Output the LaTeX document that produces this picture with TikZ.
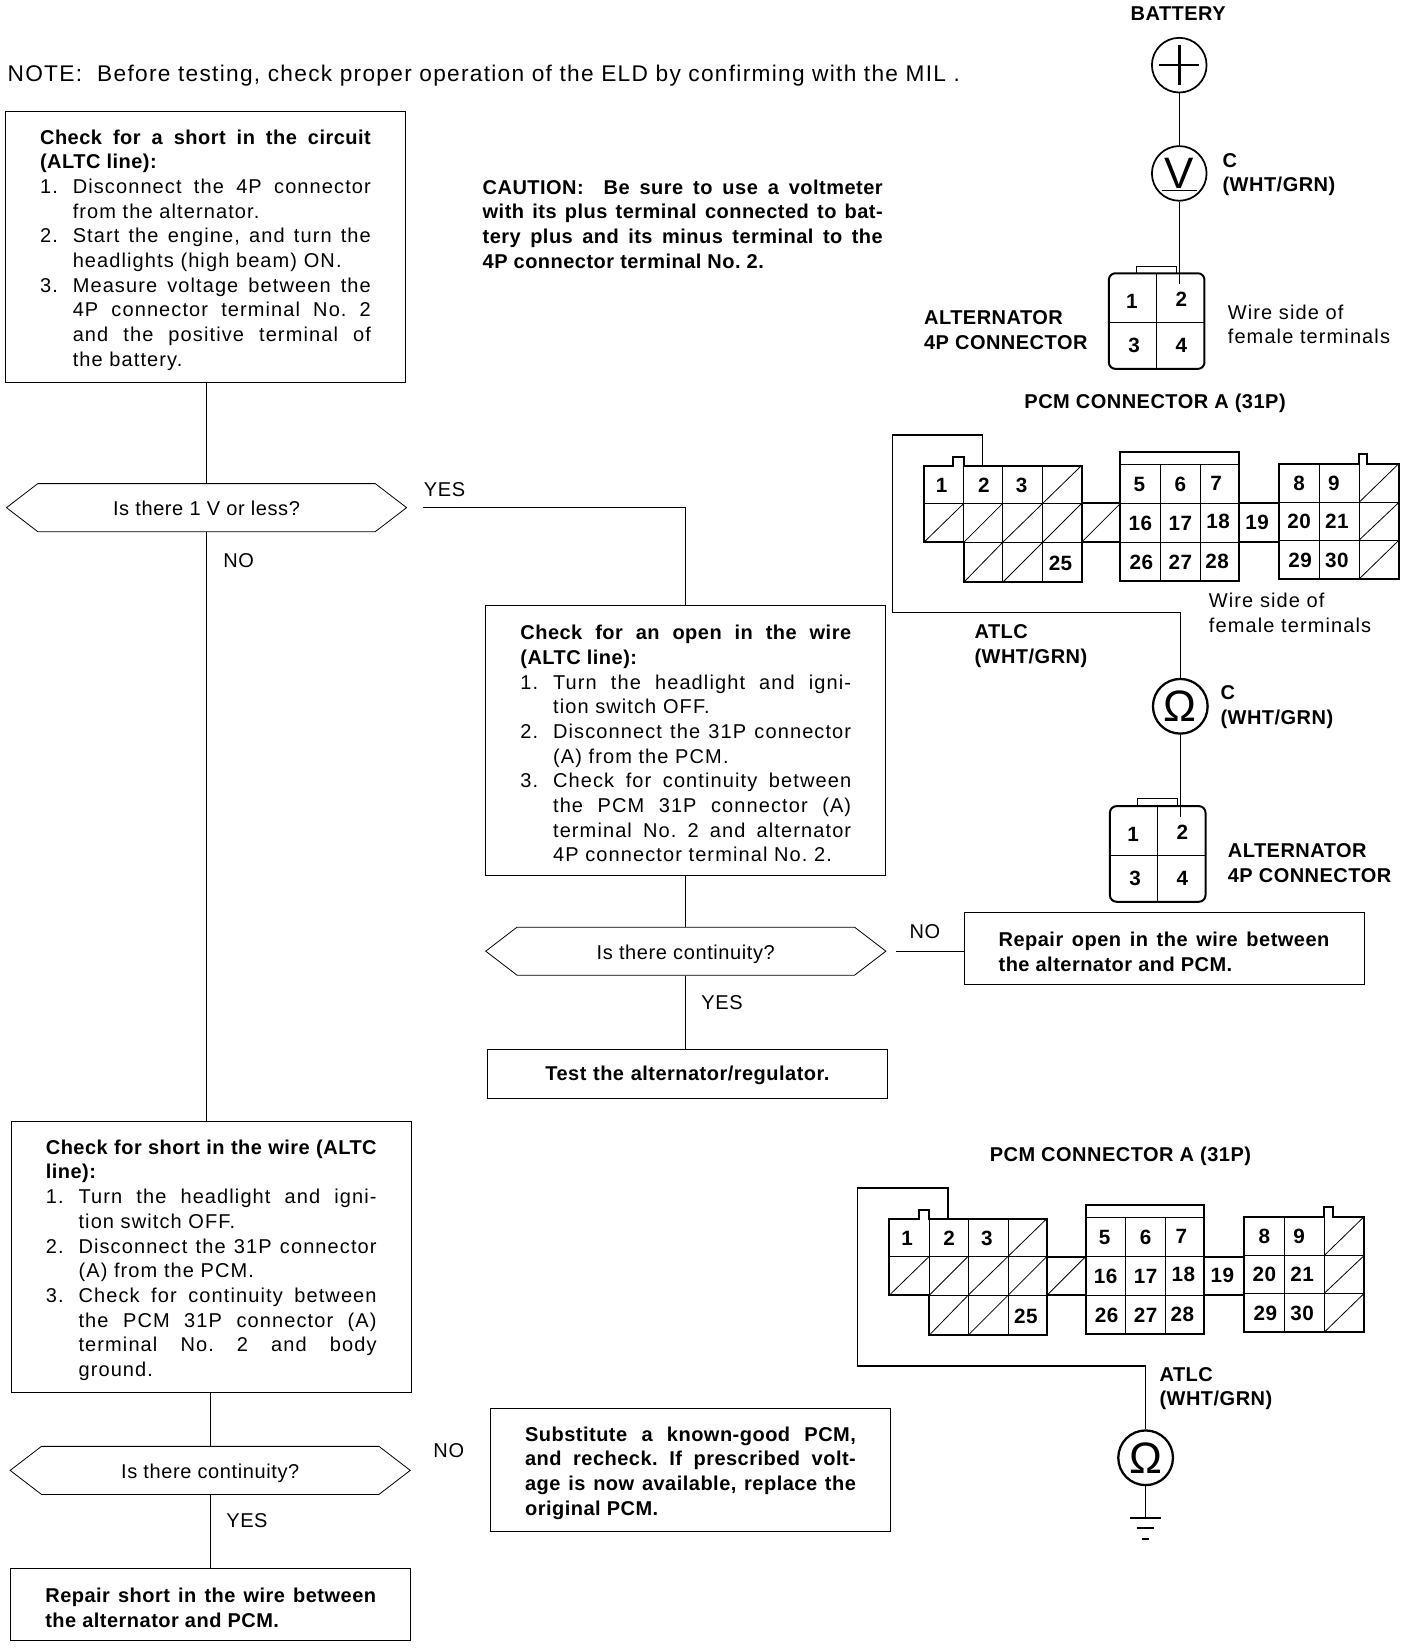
\documentclass[tikz,border=0pt]{standalone}
\usepackage{fontspec}
\setmainfont{Liberation Sans}[LetterSpace=5.5, BoldFeatures={LetterSpace=2.4}]
\usetikzlibrary{shapes.symbols, positioning}

% 4P alternator connector
\newcommand{\altconn}[3]{%
  \begin{scope}[shift={(#2,#3)},name prefix=#1-]
    \draw[heavy, rounded corners=5pt] (1055,260) rectangle (1146,351);
    \draw[semithick] (1081,260) -- (1081,253) -- (1119,253) -- (1119,260);
    \draw[fine] (1100,260) -- (1100,351);
    \draw[fine] (1055,307) -- (1146,307);
    \foreach \n/\nx/\ny in {1/1077/287, 2/1124/285, 3/1079/329, 4/1124/329}
      \node[pinnum] (\n) at (\nx,\ny) {\n};
    \coordinate (pin) at (1122,270);
  \end{scope}}

% 31P PCM connector
\newcommand{\pcmconn}[3]{%
  \begin{scope}[shift={(#2,#3)},name prefix=#1-]
    % left block
    \draw[heavy] (879,443) -- (907,443) -- (907,435) -- (917,435) -- (917,443) -- (1029,443)
      -- (1029,554) -- (917,554) -- (917,516) -- (879,516) -- cycle;
    \draw[fine] (917,443) -- (917,516) (954,443) -- (954,554) (992,443) -- (992,554);
    \draw[fine] (879,479) -- (1029,479) (917,516) -- (1029,516);
    \foreach \xa/\ya/\xb/\yb in {992/479/1029/443, 879/516/917/479, 917/516/954/479, 954/516/992/479,
        992/516/1029/479, 917/554/954/516, 954/554/992/516, 1029/516/1066/479}
      \draw[fine] (\xa,\ya) -- (\xb,\yb);
    % links
    \draw[heavy] (1029,479) -- (1066,479) (1029,516) -- (1066,516);
    \draw[heavy] (1179,479) -- (1217,479) (1179,516) -- (1217,516);
    % middle block
    \draw[heavy] (1066,430) rectangle (1179,553);
    \draw[fine] (1066,442) -- (1179,442) (1104,442) -- (1104,553) (1142,442) -- (1142,553);
    \draw[semithick] (1066,479) -- (1179,479) (1066,516) -- (1179,516);
    % right block
    \draw[heavy] (1217,441) -- (1293,441) -- (1293,432) -- (1301,432) -- (1301,441) -- (1331,441)
      -- (1331,551) -- (1217,551) -- cycle;
    \draw[fine] (1255,441) -- (1255,551) (1293,441) -- (1293,551);
    \draw[fine] (1217,478) -- (1331,478) (1217,514) -- (1331,514);
    \foreach \xa/\ya/\xb/\yb in {1293/478/1331/441, 1293/514/1331/478, 1293/551/1331/514}
      \draw[fine] (\xa,\ya) -- (\xb,\yb);
    % terminal numbers
    \foreach \n/\nx/\ny in {1/896/462, 2/936/462, 3/972/462, 25/1009/536, 5/1084/461, 6/1123/461, 7/1157/460,
        16/1085/498, 17/1123/498, 18/1159/496, 19/1196/497, 20/1236/496, 21/1272/496,
        26/1086/535, 27/1123/535, 28/1158/534, 8/1236/460, 9/1269/460, 29/1237/533, 30/1272/533}
      \node[pinnum] (\n) at (\nx,\ny) {\n};
    \coordinate (pin) at (935,443);
  \end{scope}}

\newcommand{\stepitem}[2]{\par\hangindent=24.5pt\hangafter=1\noindent\makebox[24.5pt][l]{#1}#2\par}
\newcommand{\boxend}{\par\kern-4.7pt}

\begin{document}
\begin{tikzpicture}[
  x=0.78806pt, y=-0.78806pt,
  heavy/.style={line width=1.5pt},
  fine/.style={line width=0.6pt},
  flowline/.style={line width=0.7pt},
  wire/.style={line width=1.1pt},
  body/.style={font=\fontsize{15}{18.5}\selectfont},
  strong/.style={font=\fontsize{15}{18.5}\selectfont\bfseries},
  flowbox/.style={draw, line width=0.6pt, text width=248pt, inner xsep=26pt, inner ysep=0pt, align=justify, body,
    execute at begin node=\frenchspacing, execute at end node=\boxend},
  askbox/.style={draw, line width=0.6pt, signal, signal to=east and west, signal pointer angle=75,
    minimum width=300pt, minimum height=36pt, inner sep=0pt, text height=12pt, text depth=0pt,
    font=\fontsize{15}{18.5}\selectfont\addfontfeature{LetterSpace=3}},
  meter/.style={draw, circle, line width=1.3pt, minimum size=41pt, inner sep=0pt},
  pinnum/.style={font=\fontsize{15.5}{15.5}\selectfont\bfseries, inner sep=0pt},
  tag/.style={anchor=west, align=left, inner sep=0pt, yshift=-2pt, strong},
  plaintag/.style={anchor=west, align=left, inner sep=0pt, body},
  reply/.style={inner sep=0pt, font=\fontsize{15}{18.5}\selectfont\addfontfeature{LetterSpace=3}},
]
  \useasboundingbox (0,0) rectangle (1340,1568);

  % Note and caution
  \node[plaintag, yshift=-2pt, font=\fontsize{17}{20}\selectfont\addfontfeature{LetterSpace=5.7}] (note) at (7,69)
    {NOTE:\ \ Before testing, check proper operation of the ELD by confirming with the MIL .};
  \node[anchor=west, text width=300pt, align=justify, inner sep=0pt, strong,
        execute at begin node=\frenchspacing] (caution) at (459,213)
    {CAUTION:\ \ Be sure to use a voltmeter\linebreak with its plus terminal connected to bat-\linebreak
     tery plus and its minus terminal to the\linebreak 4P connector terminal No. 2.};

  % Flowchart boxes
  \node[flowbox, minimum height=203pt] (short) at (195.5,235) {%
    {\bfseries Check for a short in the circuit\linebreak (ALTC line):}
    \stepitem{1.}{Disconnect the 4P connector\linebreak from the alternator.}
    \stepitem{2.}{Start the engine, and turn the\linebreak headlights (high beam) ON.}
    \stepitem{3.}{Measure voltage between the\linebreak 4P connector terminal No. 2\linebreak and the positive terminal of\linebreak the battery.}};
  \node[askbox] (ask1) at (196.5,483) {Is there 1 V or less?};
  \node[flowbox, minimum height=203pt] (open) at (652.5,704.5) {%
    {\bfseries Check for an open in the wire\linebreak (ALTC line):}
    \stepitem{1.}{Turn the headlight and igni-\linebreak tion switch OFF.}
    \stepitem{2.}{Disconnect the 31P connector\linebreak (A) from the PCM.}
    \stepitem{3.}{Check for continuity between\linebreak the PCM 31P connector (A)\linebreak terminal No. 2 and alternator\linebreak 4P connector terminal No. 2.}};
  \node[askbox] (ask2) at (652.5,905) {Is there continuity?};
  \node[flowbox, strong, align=center, minimum height=37pt] (test) at (654,1021.5) {Test the alternator/regulator.};
  \node[flowbox, strong, minimum height=54pt] (repopen) at (1107.5,902.5)
    {Repair open in the wire between\linebreak the alternator and PCM.};
  \node[flowbox, minimum height=203pt] (gndshort) at (201,1196) {%
    {\bfseries Check for short in the wire (ALTC\linebreak line):}
    \stepitem{1.}{Turn the headlight and igni-\linebreak tion switch OFF.}
    \stepitem{2.}{Disconnect the 31P connector\linebreak (A) from the PCM.}
    \stepitem{3.}{Check for continuity between\linebreak the PCM 31P connector (A)\linebreak terminal No. 2 and body\linebreak ground.}};
  \node[askbox] (ask3) at (200,1399) {Is there continuity?};
  \node[flowbox, strong, minimum height=54pt] (repshort) at (200.5,1526.5)
    {Repair short in the wire between\linebreak the alternator and PCM.};
  \node[flowbox, strong, minimum height=92pt] (subst) at (657,1398.5)
    {Substitute a known-good PCM,\linebreak and recheck. If prescribed volt-\linebreak age is now available, replace the\linebreak original PCM.};

  % Flow lines
  \draw[flowline] (short.south) -- (short.south -| ask1.north) -- (ask1.north);
  \draw[flowline] (ask1.south) -- (ask1.south |- gndshort.north);
  \draw[flowline, shorten <=12pt] (ask1.east) -| (open.north);
  \draw[flowline] (open.south) -- (open.south -| ask2.north) -- (ask2.north);
  \draw[flowline] (ask2.south) -- (ask2.south |- test.north);
  \draw[flowline, shorten <=7pt] (ask2.east) -- (ask2.east -| repopen.west);
  \draw[flowline] (gndshort.south) -- (gndshort.south -| ask3.north) -- (ask3.north);
  \draw[flowline] (ask3.south) -- (ask3.south |- repshort.north);

  % Answers
  \node[reply] (yes1) at (423,466) {YES};
  \node[reply] (no1) at (227,533) {NO};
  \node[reply] (no2) at (880,886) {NO};
  \node[reply] (yes2) at (687,954) {YES};
  \node[reply] (no3) at (427,1380) {NO};
  \node[reply] (yes3) at (235,1447) {YES};

  % Voltage test
  \node[strong, inner sep=0pt] (battlbl) at (1121,13) {BATTERY};
  \node[meter] (batt) at (1122,62) {};
  \draw[line width=2pt] ([xshift=-15pt]batt.center) -- ([xshift=15pt]batt.center);
  \draw[line width=2pt] ([yshift=-15pt]batt.center) -- ([yshift=15pt]batt.center);
  \node[meter, font=\fontsize{33}{33}\selectfont] (volt) at (1122,165) {V};
  \draw[line width=1pt] ([xshift=-13pt,yshift=-13pt]volt.center) -- ([xshift=13pt,yshift=-13pt]volt.center);
  \altconn{topalt}{0}{0}
  \draw[wire] (batt.south) -- (volt.north);
  \draw[wire] (volt.south) -- (topalt-pin);
  \node[tag] (volttag) at (1163,163.5) {C\\(WHT/GRN)};
  \node[tag] (alttag) at (879,311.5) {ALTERNATOR\\4P CONNECTOR};
  \node[plaintag] (wiretag) at (1168,308.5) {Wire side of\\female terminals};

  % Continuity test, open
  \node[strong, inner sep=0pt, yshift=-2pt] (pcmlbl) at (1099,381) {PCM CONNECTOR A (31P)};
  \pcmconn{upcm}{0}{0}
  \node[plaintag] (wiretagb) at (1150,583) {Wire side of\\female terminals};
  \node[tag] (atlc) at (927,612.5) {ATLC\\(WHT/GRN)};
  \node[meter, line width=1.7pt, font=\fontsize{33}{33}\selectfont] (ohma) at (1123,672) {Ω};
  \draw[wire] (upcm-pin) -- ++(0,-29) -- ++(-86,0) -- ++(0,169) -| (ohma.north);
  \node[tag] (ohmtag) at (1161,670.5) {C\\(WHT/GRN)};
  \altconn{lowalt}{1}{507}
  \draw[wire] (ohma.south) -- (lowalt-pin);
  \node[tag] (alttagb) at (1168,818.5) {ALTERNATOR\\4P CONNECTOR};

  % Continuity test, short
  \node[strong, inner sep=0pt, yshift=-2pt] (pcmlblb) at (1066,1098) {PCM CONNECTOR A (31P)};
  \pcmconn{lpcm}{-33}{716.5}
  \node[tag] (atlcb) at (1103,1318.5) {ATLC\\(WHT/GRN)};
  \node[meter, line width=1.7pt, font=\fontsize{33}{33}\selectfont] (ohmb) at (1090,1387) {Ω};
  \draw[wire] (lpcm-pin) -- ++(0,-29) -- ++(-86,0) -- ++(0,169) -| (ohmb.north);
  \coordinate (gnd) at (1090,1444);
  \draw[wire] (ohmb.south) -- (gnd);
  \draw[line width=1.4pt] (gnd) ++(-15,0) -- ++(30,0);
  \draw[line width=1.4pt] (gnd) ++(-8,10) -- ++(16,0);
  \draw[line width=1.4pt] (gnd) ++(-3,20) -- ++(6,0);
\end{tikzpicture}
\end{document}
